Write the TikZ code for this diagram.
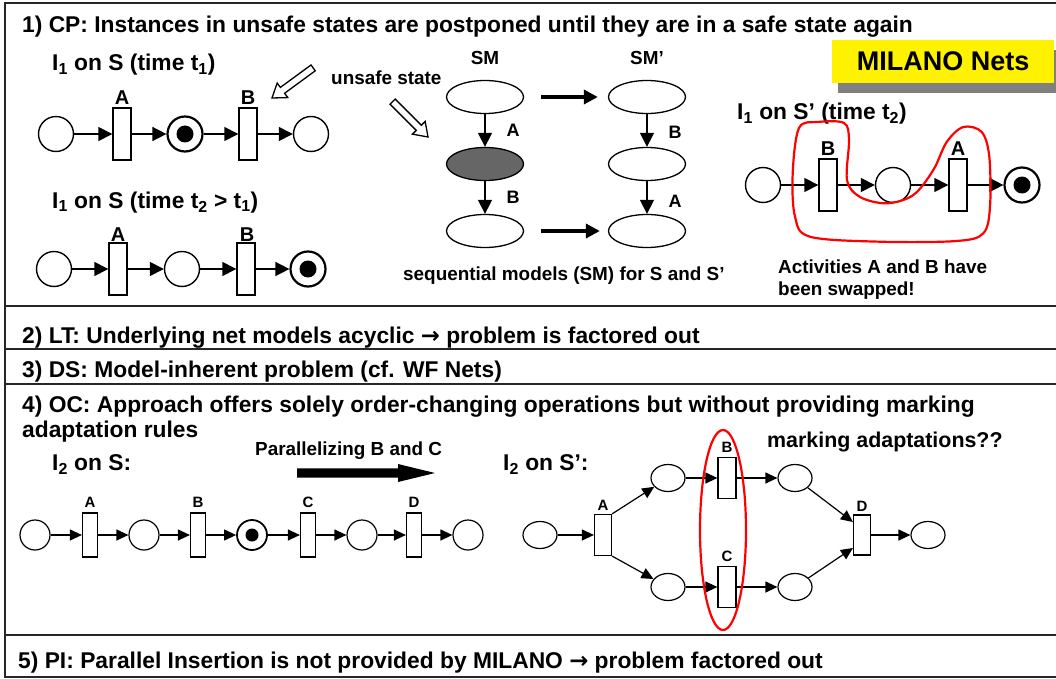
\documentclass[tikz,border=0pt]{standalone}
\usepackage{fontspec}
\setmainfont{Liberation Sans}
\newfontfamily\djv{DejaVu Sans}
\newcommand{\rarr}{{\djv\bfseries →}}
\usetikzlibrary{arrows.meta,shapes.geometric,calc}
\begin{document}
\begin{tikzpicture}[x=1pt,y=-1pt,
  every node/.style={font=\bfseries},
  head/.style={font=\fontsize{22.8}{26}\selectfont\bfseries, anchor=base west, inner sep=0pt},
  med/.style={font=\fontsize{18.9}{22}\selectfont\bfseries, inner sep=0pt},
  big/.style={font=\fontsize{20}{22}\selectfont\bfseries, inner sep=0pt},
  smlbl/.style={font=\fontsize{18}{20}\selectfont\bfseries, inner sep=0pt},
  tiny/.style={font=\fontsize{15}{17}\selectfont\bfseries, inner sep=0pt},
  place/.style={circle, draw, line width=1.4pt, minimum size=35pt, inner sep=0pt},
  marked/.style={place, line width=2.2pt, path picture={\fill (path picture bounding box.center) circle (8.5pt);}},
  trans/.style={rectangle, draw, fill=white, line width=1.4pt, minimum width=18pt, minimum height=52pt, inner sep=0pt},
  place4/.style={circle, draw, line width=1.2pt, minimum size=30pt, inner sep=0pt},
  marked4/.style={place4, line width=1.8pt, path picture={\fill (path picture bounding box.center) circle (6.5pt);}},
  trans4/.style={rectangle, draw, fill=white, line width=1.2pt, minimum width=15pt, minimum height=44pt, inner sep=0pt},
  oval/.style={ellipse, draw, line width=1.2pt, minimum width=34pt, minimum height=27pt, inner sep=0pt},
  state/.style={ellipse, draw, line width=1.3pt, minimum width=77pt, minimum height=33pt, inner sep=0pt},
  arc/.style={line width=1.5pt, -{Triangle[length=14pt,width=14pt]}},
  arc4/.style={line width=1.2pt, -{Triangle[length=12pt,width=11pt]}},
  fatarc/.style={line width=3.5pt, -{Triangle[length=14pt,width=14pt]}},
  hollow/.style={draw, line width=1.3pt, fill=white, line join=miter},
  sep/.style={line width=2pt, draw=black!85}
]
\useasboundingbox (0,0) rectangle (1056,679);

% frame and separators
\draw[sep] (1056,3) -- (5,3) -- (5,677) -- (1056,677);
\draw[sep] (5,306) -- (1056,306);
\draw[sep] (5,349) -- (1056,349);
\draw[sep] (5,384) -- (1056,384);
\draw[sep] (5,635) -- (1056,635);

% ---------- Section 1 ----------
\node[head] (t1) at (22,33) {1) CP: Instances in unsafe states are postponed until they are in a safe state again};
\node[head] (h11) at (52,71) {I\textsubscript{1} on S (time t\textsubscript{1})};
\node[head] (h12) at (52,208) {I\textsubscript{1} on S (time t\textsubscript{2} > t\textsubscript{1})};

% row 1
\node[place]  (p11) at (56,134) {};
\node[trans]  (a1)  at (122,134) {};
\node[marked] (p12) at (185,134) {};
\node[trans]  (b1)  at (248,134) {};
\node[place]  (p13) at (311,134) {};
\node[big] (la1) at (122,98) {A};
\node[big] (lb1) at (248,98) {B};
\draw[arc] (p11) -- (a1);
\draw[arc] (a1) -- (p12);
\draw[arc] (p12) -- (b1);
\draw[arc] (b1) -- (p13);

% row 2
\node[place]  (p21) at (54,269) {};
\node[trans]  (a2)  at (118,269) {};
\node[place]  (p22) at (182,269) {};
\node[trans]  (b2)  at (246,269) {};
\node[marked] (p23) at (308,269) {};
\node[big] (la2) at (118,235) {A};
\node[big] (lb2) at (247,235) {B};
\draw[arc] (p21) -- (a2);
\draw[arc] (a2) -- (p22);
\draw[arc] (p22) -- (b2);
\draw[arc] (b2) -- (p23);

% hollow arrows
\draw[hollow, shift={(272,98)}, rotate=216.2] (0,0) -- (-13,-9) -- (-13,-3.6) -- (-51,-3.6) -- (-51,3.6) -- (-13,3.6) -- (-13,9) -- cycle;
\draw[hollow, shift={(428,137)}, rotate=-45] (0,0) -- (-13,-9) -- (-13,-3.6) -- (-50,-3.6) -- (-50,3.6) -- (-13,3.6) -- (-13,9) -- cycle;
\node[med, anchor=base west] (us) at (331,85) {unsafe state};

% sequential models
\node[med] (sm) at (485,58) {SM};
\node[med] (smp) at (647,58) {SM’};
\node[state] (s1) at (485,97) {};
\node[state, fill=black!60] (s2) at (485,164) {};
\node[state] (s3) at (485,231) {};
\node[state] (s1p) at (647,97) {};
\node[state] (s2p) at (647,164) {};
\node[state] (s3p) at (647,231) {};
\draw[arc] (s1) -- (s2);
\draw[arc] (s2) -- (s3);
\draw[arc] (s1p) -- (s2p);
\draw[arc] (s2p) -- (s3p);
\node[smlbl] (sa) at (513,130) {A};
\node[smlbl] (sb) at (513,197) {B};
\node[smlbl] (spb) at (675,132) {B};
\node[smlbl] (spa) at (675,201) {A};
\draw[fatarc, shorten <=17pt, shorten >=10pt] (s1) -- (s1p);
\draw[fatarc, shorten <=17pt, shorten >=8pt] (s3) -- (s3p);
\node[med, anchor=base west] (seq) at (403,280) {sequential models (SM) for S and S’};

% MILANO box
\fill[black!50] (838,50) rectangle (1062,93);
\node[fill=yellow, minimum width=222pt, minimum height=43pt, inner sep=0pt, anchor=north west,
      font=\fontsize{27}{30}\selectfont\bfseries] (mil) at (832,40) {MILANO Nets};

% I1 on S'
\node[head] (h13) at (737,120) {I\textsubscript{1} on S’ (time t\textsubscript{2})};
\node[place]  (p31) at (763,185) {};
\node[trans]  (b3)  at (828,185) {};
\node[place]  (p32) at (893,185) {};
\node[trans]  (a3)  at (958,185) {};
\node[marked] (p33) at (1022,185) {};
\node[big] (lb3) at (828,149) {B};
\node[big] (la3) at (958,149) {A};
\draw[arc] (p31) -- (b3);
\draw[arc] (b3) -- (p32);
\draw[arc] (p32) -- (a3);
\draw[arc] (a3) -- (p33);
\draw[red, line width=2.2pt] plot[smooth cycle, tension=0.55] coordinates {
  (799,128) (818,122) (844,123) (849,140) (847,180) (860,197)
  (886.7,203.3) (913.3,195) (933.3,170) (946.7,142) (963.3,127) (981.7,132)
  (989.3,156.7) (990,206.7) (983.3,233.3) (956.7,241) (880,241.7) (810,236.7)
  (795,216.7) (792.7,173.3)};
\node[med, anchor=base west] (act1) at (778,273) {Activities A and B have};
\node[med, anchor=base west] (act2) at (778,295) {been swapped!};

% ---------- Sections 2, 3 ----------
\node[head] (t2) at (22,343) {2) LT: Underlying net models acyclic \rarr{} problem is factored out};
\node[head] (t3) at (22,377) {3) DS: Model-inherent problem (cf. WF Nets)};

% ---------- Section 4 ----------
\node[head] (t4a) at (22,412) {4) OC: Approach offers solely order-changing operations but without providing marking};
\node[head] (t4b) at (22,437) {adaptation rules};
\node[head] (h41) at (52,470) {I\textsubscript{2} on S:};
\node[med, anchor=base west] (par) at (255,455) {Parallelizing B and C};
\fill (297,468.3) -- (398,468.3) -- (398,464) -- (435,473) -- (398,482) -- (398,477.7) -- (297,477.7) -- cycle;
\node[head] (h42) at (503,470) {I\textsubscript{2} on S’:};
\node[font=\fontsize{21.4}{24}\selectfont\bfseries, anchor=base west, inner sep=0pt] (madp) at (767,447) {marking adaptations??};

% left net
\node[place4]  (q1) at (35,535) {};
\node[trans4]  (ta) at (90,535) {};
\node[place4]  (q2) at (144,535) {};
\node[trans4]  (tb) at (198,535) {};
\node[marked4] (q3) at (252,535) {};
\node[trans4]  (tc) at (308,535) {};
\node[place4]  (q4) at (362,535) {};
\node[trans4]  (td) at (414,535) {};
\node[place4]  (q5) at (468,535) {};
\node[tiny] (lta) at (90,502) {A};
\node[tiny] (ltb) at (198,502) {B};
\node[tiny] (ltc) at (308,502) {C};
\node[tiny] (ltd) at (414,502) {D};
\draw[arc4] (q1) -- (ta);
\draw[arc4] (ta) -- (q2);
\draw[arc4] (q2) -- (tb);
\draw[arc4] (tb) -- (q3);
\draw[arc4] (q3) -- (tc);
\draw[arc4] (tc) -- (q4);
\draw[arc4] (q4) -- (td);
\draw[arc4] (td) -- (q5);

% right net
\node[oval] (r0) at (540,535) {};
\node[trans4, minimum width=17pt, minimum height=41pt] (ra) at (603,535) {};
\node[oval] (ru) at (668,478) {};
\node[oval] (rl) at (668,587) {};
\node[trans4, minimum width=18pt, minimum height=41pt] (rb) at (727,478) {};
\node[trans4, minimum width=18pt, minimum height=41pt] (rc) at (727,587) {};
\node[oval] (rur) at (795,478) {};
\node[oval] (rlr) at (795,587) {};
\node[trans4, minimum width=17pt, minimum height=40pt] (rd) at (862,535) {};
\node[oval] (r5) at (928,535) {};
\node[tiny] (lra) at (603,505) {A};
\node[tiny] (lrb) at (727,447) {B};
\node[tiny] (lrc) at (727,556) {C};
\node[tiny] (lrd) at (862,506) {D};
\draw[arc4] (r0) -- (ra);
\draw[arc4] (ra.north east) -- (ru);
\draw[arc4] (ra.south east) -- (rl);
\draw[arc4] (ru) -- (rb);
\draw[arc4] (rl) -- (rc);
\draw[arc4] (rb) -- (rur);
\draw[arc4] (rc) -- (rlr);
\draw[arc4] (rur) -- ([yshift=13pt]rd.west);
\draw[arc4] (rlr) -- ([yshift=-13pt]rd.west);
\draw[arc4] (rd) -- (r5);
\draw[red, line width=2.2pt] (723,530) ellipse [x radius=23pt, y radius=100pt];

% ---------- Section 5 ----------
\node[head] (t5) at (18,668) {5) PI: Parallel Insertion is not provided by MILANO \rarr{} problem factored out};
\end{tikzpicture}
\end{document}
